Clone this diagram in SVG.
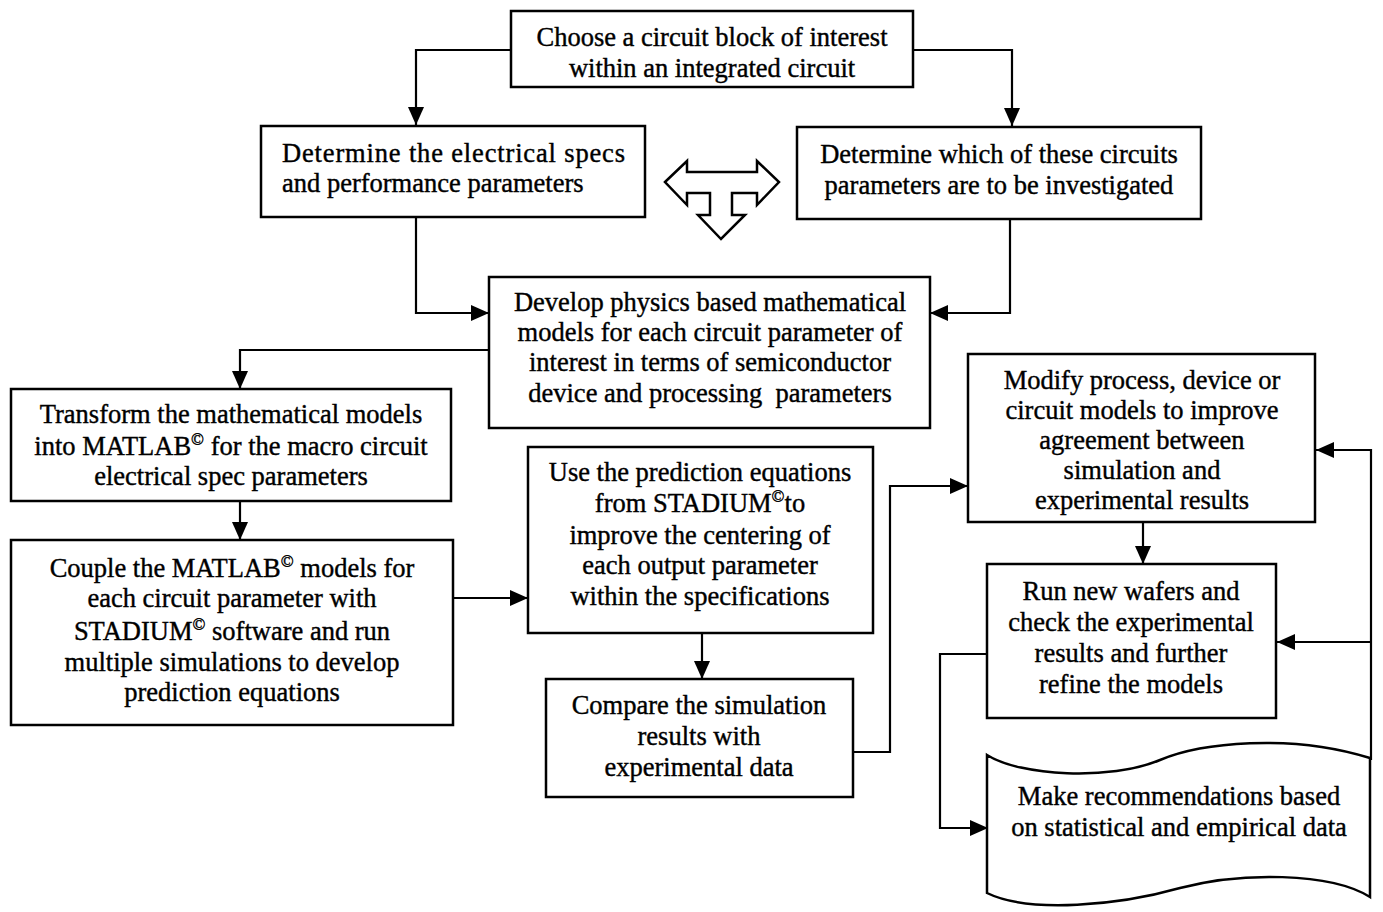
<svg xmlns="http://www.w3.org/2000/svg" width="1383" height="912" viewBox="0 0 1383 912">
<defs>
<style>
.box{fill:#fff;stroke:#000;stroke-width:2.5}
.t{font-family:"Liberation Serif","Times New Roman",serif;font-size:26.5px;fill:#000;stroke:#000;stroke-width:0.4;text-anchor:middle}
.ts{font-family:"Liberation Serif","Times New Roman",serif;font-size:26.5px;fill:#000;stroke:#000;stroke-width:0.4;text-anchor:start}
.sup{font-size:17px}
.c{fill:none;stroke:#000;stroke-width:2.2;marker-end:url(#ah)}
</style>
<marker id="ah" markerUnits="userSpaceOnUse" markerWidth="20" markerHeight="16" refX="18" refY="8" orient="auto">
<path d="M0,0 L18,8 L0,16 z" fill="#000"/>
</marker>
</defs>
<rect width="1383" height="912" fill="#fff"/>

<g id="connectors">
<path class="c" d="M511,50 H416 V125"/>
<path class="c" d="M913,50 H1012 V126"/>
<path class="c" d="M416,217 V313 H489"/>
<path class="c" d="M1010,219 V313 H930"/>
<path class="c" d="M489,350 H240 V389"/>
<path class="c" d="M240,501 V540"/>
<path class="c" d="M453,598 H528"/>
<path class="c" d="M702,633 V679"/>
<path class="c" d="M853,752 H890 V486 H968"/>
<path class="c" d="M1143,522 V564"/>
<path class="c" d="M1371,760 V450 H1316"/>
<path class="c" d="M1371,642 H1277"/>
<path class="c" d="M987,654 H940 V828 H988"/>
</g>

<g id="n_choose">
<rect class="box" x="511" y="11" width="402" height="76"/>
<text class="t" x="712" y="46">Choose a circuit block of interest</text>
<text class="t" x="712" y="77">within an integrated circuit</text>
</g>

<g id="n_specs">
<rect class="box" x="261" y="126" width="384" height="91"/>
<text class="ts" x="282" y="162" textLength="343" lengthAdjust="spacing">Determine the electrical specs</text>
<text class="ts" x="282" y="192">and performance parameters</text>
</g>

<g id="n_tri_arrow">
<polygon points="665,182 687,161 687,172 757,172 757,161 779,182 757,205 757,193 732,193 732,215 745,215 721,239 698,215 710,215 710,193 687,193 687,205" fill="#fff" stroke="#000" stroke-width="2.5" stroke-linejoin="miter"/>
</g>

<g id="n_which">
<rect class="box" x="797" y="127" width="404" height="92"/>
<text class="t" x="999" y="163">Determine which of these circuits</text>
<text class="t" x="999" y="194">parameters are to be investigated</text>
</g>

<g id="n_develop">
<rect class="box" x="489" y="277" width="441" height="151"/>
<text class="t" x="710" y="311">Develop physics based mathematical</text>
<text class="t" x="710" y="341">models for each circuit parameter of</text>
<text class="t" x="710" y="371">interest in terms of semiconductor</text>
<text class="t" x="710" y="402" xml:space="preserve">device and processing  parameters</text>
</g>

<g id="n_transform">
<rect class="box" x="11" y="389" width="440" height="112"/>
<text class="t" x="231" y="423">Transform the mathematical models</text>
<text class="t" x="231" y="455">into MATLAB<tspan class="sup" dy="-10">©</tspan><tspan dy="10"> for the macro circuit</tspan></text>
<text class="t" x="231" y="485">electrical spec parameters</text>
</g>

<g id="n_couple">
<rect class="box" x="11" y="540" width="442" height="185"/>
<text class="t" x="232" y="577">Couple the MATLAB<tspan class="sup" dy="-10">©</tspan><tspan dy="10"> models for</tspan></text>
<text class="t" x="232" y="607">each circuit parameter with</text>
<text class="t" x="232" y="640">STADIUM<tspan class="sup" dy="-10">©</tspan><tspan dy="10"> software and run</tspan></text>
<text class="t" x="232" y="671">multiple simulations to develop</text>
<text class="t" x="232" y="701">prediction equations</text>
</g>

<g id="n_use">
<rect class="box" x="528" y="447" width="345" height="186"/>
<text class="t" x="700" y="481">Use the prediction equations</text>
<text class="t" x="700" y="512">from STADIUM<tspan class="sup" dy="-10">©</tspan><tspan dy="10">to</tspan></text>
<text class="t" x="700" y="544">improve the centering of</text>
<text class="t" x="700" y="574">each output parameter</text>
<text class="t" x="700" y="605">within the specifications</text>
</g>

<g id="n_compare">
<rect class="box" x="546" y="679" width="307" height="118"/>
<text class="t" x="699" y="714">Compare the simulation</text>
<text class="t" x="699" y="745">results with</text>
<text class="t" x="699" y="776">experimental data</text>
</g>

<g id="n_modify">
<rect class="box" x="968" y="354" width="347" height="168"/>
<text class="t" x="1142" y="389">Modify process, device or</text>
<text class="t" x="1142" y="419">circuit models to improve</text>
<text class="t" x="1142" y="449">agreement between</text>
<text class="t" x="1142" y="479">simulation and</text>
<text class="t" x="1142" y="509">experimental results</text>
</g>

<g id="n_run">
<rect class="box" x="987" y="564" width="289" height="154"/>
<text class="t" x="1131" y="600">Run new wafers and</text>
<text class="t" x="1131" y="631">check the experimental</text>
<text class="t" x="1131" y="662">results and further</text>
<text class="t" x="1131" y="693">refine the models</text>
</g>

<g id="n_recommend">
<path class="box" d="M987,755 C1020,776 1110,781 1160,760 C1200,743 1290,733 1370,758 L1370,897 C1330,872 1240,872 1180,888 C1120,905 1030,914 987,893 Z"/>
<text class="t" x="1179" y="805">Make recommendations based</text>
<text class="t" x="1179" y="836">on statistical and empirical data</text>
</g>
</svg>
